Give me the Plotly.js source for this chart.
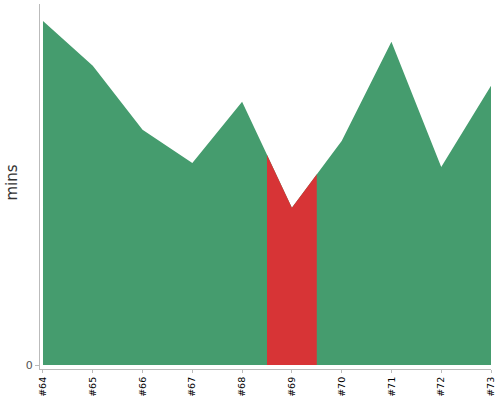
<!DOCTYPE html>
<html><head><meta charset="utf-8">
<script src="https://cdn.plot.ly/plotly-3.0.1.min.js"></script>
<style>html,body{margin:0;padding:0;background:#fff}#c{width:500px;height:400px}</style>
</head><body><div id="c"></div>
<script>
const builds = ['#64','#65','#66','#67','#68','#69','#70','#71','#72','#73'];
const durations = [8.6, 7.48, 5.88, 5.05, 6.58, 3.93, 5.6, 8.08, 4.95, 6.98];
const statuses = ['SUCCESS','SUCCESS','SUCCESS','SUCCESS','SUCCESS','FAILURE','SUCCESS','SUCCESS','SUCCESS','SUCCESS'];
const yTitle = 'mins';

const GREEN = '#459c6e', RED = '#d73436';
const xr = [-0.06, builds.length - 1];
const span = xr[1] - xr[0];
const idx = builds.map((b, i) => i);

const traces = [{
  x: idx, y: durations, type: 'scatter', mode: 'lines', fill: 'tozeroy',
  fillcolor: GREEN, line: {width: 0, color: GREEN}, hoverinfo: 'skip', showlegend: false
}];
const layout = {
  width: 500, height: 400, margin: {l: 40, r: 9, t: 4, b: 31},
  paper_bgcolor: '#fff', plot_bgcolor: 'rgba(0,0,0,0)', showlegend: false,
  font: {family: 'DejaVu Sans, sans-serif'},
  xaxis: {
    range: xr, tickvals: idx, ticktext: builds, tickangle: -90,
    tickfont: {size: 9.5, color: '#000'}, ticks: 'outside', ticklen: 3, tickcolor: '#bbb',
    showgrid: false, zeroline: false, showline: true, linecolor: '#bbb', linewidth: 1
  },
  yaxis: {
    range: [-0.1, 9.025], tickvals: [0], ticktext: ['0'], tickfont: {size: 11, color: '#555'},
    ticks: 'outside', ticklen: 4, tickcolor: '#bbb',
    showgrid: false, zeroline: false, showline: true, linecolor: '#bbb', linewidth: 1
  },
  annotations: [{
    text: yTitle, xref: 'paper', yref: 'paper', x: -0.061, y: 0.512,
    xanchor: 'center', yanchor: 'middle', textangle: -90, showarrow: false,
    font: {size: 15, color: '#333'}
  }]
};
let k = 2;
statuses.forEach((s, i) => {
  if (s !== 'FAILURE') return;
  const ax = 'xaxis' + k;
  const a = i - 0.5, b = i + 0.5;
  layout[ax] = {
    range: [a, b], domain: [(a - xr[0]) / span, (b - xr[0]) / span],
    anchor: 'y', visible: false, showgrid: false, zeroline: false, showline: false
  };
  traces.push({
    x: idx, y: durations, xaxis: 'x' + k, type: 'scatter', mode: 'lines', fill: 'tozeroy',
    fillcolor: RED, line: {width: 0, color: RED}, hoverinfo: 'skip', showlegend: false
  });
  k++;
});
Plotly.newPlot('c', traces, layout, {displayModeBar: false, staticPlot: true});
</script></body></html>
